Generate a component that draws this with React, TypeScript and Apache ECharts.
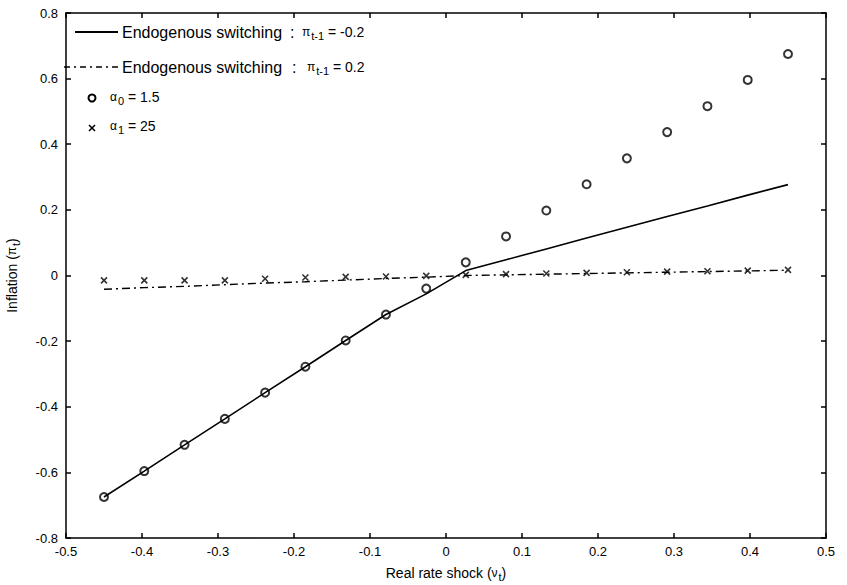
import React, { useEffect, useRef } from "react";
import * as echarts from "echarts";

const xTicks = [-0.5, -0.4, -0.3, -0.2, -0.1, 0, 0.1, 0.2, 0.3, 0.4, 0.5];
const yTicks = [-0.8, -0.6, -0.4, -0.2, 0, 0.2, 0.4, 0.6, 0.8];

const shockX = [-0.45, -0.397, -0.344, -0.291, -0.238, -0.185, -0.132, -0.079, -0.026, 0.026, 0.079, 0.132, 0.185, 0.238, 0.291, 0.344, 0.397, 0.45];
const endoNeg = [-0.675, -0.596, -0.516, -0.437, -0.357, -0.278, -0.198, -0.119, -0.056, 0.015, 0.048, 0.081, 0.114, 0.147, 0.18, 0.212, 0.245, 0.277];
const endoPos = [-0.042, -0.037, -0.033, -0.028, -0.023, -0.019, -0.014, -0.009, -0.005, 0.0, 0.002, 0.004, 0.006, 0.008, 0.010, 0.012, 0.014, 0.016];
const alpha0 = [-0.675, -0.596, -0.516, -0.437, -0.357, -0.278, -0.198, -0.119, -0.04, 0.04, 0.119, 0.198, 0.278, 0.357, 0.437, 0.516, 0.596, 0.675];
const alpha1 = [-0.015, -0.015, -0.015, -0.015, -0.010, -0.006, -0.004, -0.003, -0.001, 0.002, 0.004, 0.006, 0.008, 0.010, 0.012, 0.013, 0.015, 0.017];

const FONT = "'Liberation Sans', Arial, sans-serif";
const fmt = (v: number) => String(Number(v.toFixed(1)));
const pair = (ys: number[]) => shockX.map((x, i) => [x, ys[i]]);

const rich = {
  a: { fontSize: 14, fontFamily: FONT, color: "#000" },
  g: { fontSize: 12, fontFamily: FONT, color: "#000" },
  sub: { fontSize: 11, fontFamily: FONT, color: "#000", padding: [7, 0, 0, 1] },
};

export default function App() {
  const ref = useRef<HTMLDivElement>(null);
  useEffect(() => {
    if (!ref.current) return;
    const chart = echarts.init(ref.current, null, { renderer: "svg" });
    const axisCommon = {
      axisLine: { show: true, onZero: false, lineStyle: { color: "#000", width: 1.5 } },
      axisTick: { show: true, inside: true, length: 5, lineStyle: { color: "#000", width: 1.5 } },
      splitLine: { show: false },
    };
    const txt = (x: number, y: number, text: string) => ({
      type: "text", x, y,
      style: { text, font: `16px ${FONT}`, fill: "#000", verticalAlign: "middle" },
    });
    const rtxt = (x: number, y: number, text: string) => ({
      type: "text", x, y, style: { text, rich, verticalAlign: "middle" },
    });
    chart.setOption({
      animation: false,
      backgroundColor: "#fff",
      grid: { left: 66, right: 21, top: 13, bottom: 47, containLabel: false, outerBoundsMode: "none" },
      xAxis: [
        {
          type: "value", min: xTicks[0], max: xTicks[xTicks.length - 1], interval: 0.1,
          ...axisCommon,
          axisLabel: { formatter: fmt, color: "#000", fontSize: 13, fontFamily: FONT, margin: 7 },
          name: "{a|Real rate shock (}{g|ν}{sub|t}{a|)}",
          nameLocation: "middle", nameGap: 26,
          nameTextStyle: { rich },
        },
        {
          type: "value", position: "top", min: xTicks[0], max: xTicks[xTicks.length - 1], interval: 0.1,
          ...axisCommon, axisLabel: { show: false },
        },
      ],
      yAxis: [
        {
          type: "value", min: yTicks[0], max: yTicks[yTicks.length - 1], interval: 0.2,
          ...axisCommon,
          axisLabel: { formatter: fmt, color: "#000", fontSize: 13, fontFamily: FONT, margin: 8 },
          name: "{a|Inflation (}{g|π}{sub|t}{a|)}",
          nameLocation: "middle", nameGap: 45,
          nameTextStyle: { rich },
        },
        {
          type: "value", position: "right", min: yTicks[0], max: yTicks[yTicks.length - 1], interval: 0.2,
          ...axisCommon, axisLabel: { show: false },
        },
      ],
      series: [
        {
          name: "Endogenous switching: pi=-0.2", type: "line", data: pair(endoNeg),
          showSymbol: false, lineStyle: { color: "#000", width: 1.6 }, z: 2,
        },
        {
          name: "Endogenous switching: pi=0.2", type: "line", data: pair(endoPos),
          showSymbol: false, lineStyle: { color: "#000", width: 1.4, type: [8, 4, 2, 4] }, z: 2,
        },
        {
          name: "alpha0 = 1.5", type: "scatter", data: pair(alpha0),
          symbol: "circle", symbolSize: 8,
          itemStyle: { color: "rgba(255,255,255,0)", borderColor: "#000", borderWidth: 2 }, z: 4,
        },
        {
          name: "alpha1 = 25", type: "scatter", data: pair(alpha1),
          symbol: "path://M0,0L10,10M10,0L0,10", symbolSize: 6,
          itemStyle: { color: "none", borderColor: "#000", borderWidth: 1.6 }, z: 3,
        },
      ],
      graphic: [
        { type: "line", shape: { x1: 75, y1: 32, x2: 118, y2: 32 }, style: { stroke: "#000", lineWidth: 2 } },
        txt(122, 32, "Endogenous switching"),
        txt(290, 32, ":"),
        rtxt(302, 32, "{g|π}{sub|t-1}{a| = -0.2}"),
        { type: "line", shape: { x1: 64, y1: 67, x2: 118, y2: 67 }, style: { stroke: "#000", lineWidth: 1.6, lineDash: [6, 4, 2, 4] } },
        txt(122, 67, "Endogenous switching"),
        txt(292, 67, ":"),
        rtxt(307, 67, "{g|π}{sub|t-1}{a| = 0.2}"),
        { type: "circle", shape: { cx: 92, cy: 98, r: 3.5 }, style: { stroke: "#000", lineWidth: 2, fill: "none" } },
        rtxt(110, 97, "{g|α}{sub|0}{a| = 1.5}"),
        { type: "line", shape: { x1: 89, y1: 125, x2: 95, y2: 131 }, style: { stroke: "#000", lineWidth: 1.6 } },
        { type: "line", shape: { x1: 95, y1: 125, x2: 89, y2: 131 }, style: { stroke: "#000", lineWidth: 1.6 } },
        rtxt(110, 126, "{g|α}{sub|1}{a| = 25}"),
      ],
    });
    return () => chart.dispose();
  }, []);
  return <div ref={ref} style={{ position: "absolute", left: 0, top: 0, width: 847, height: 585 }} />;
}
